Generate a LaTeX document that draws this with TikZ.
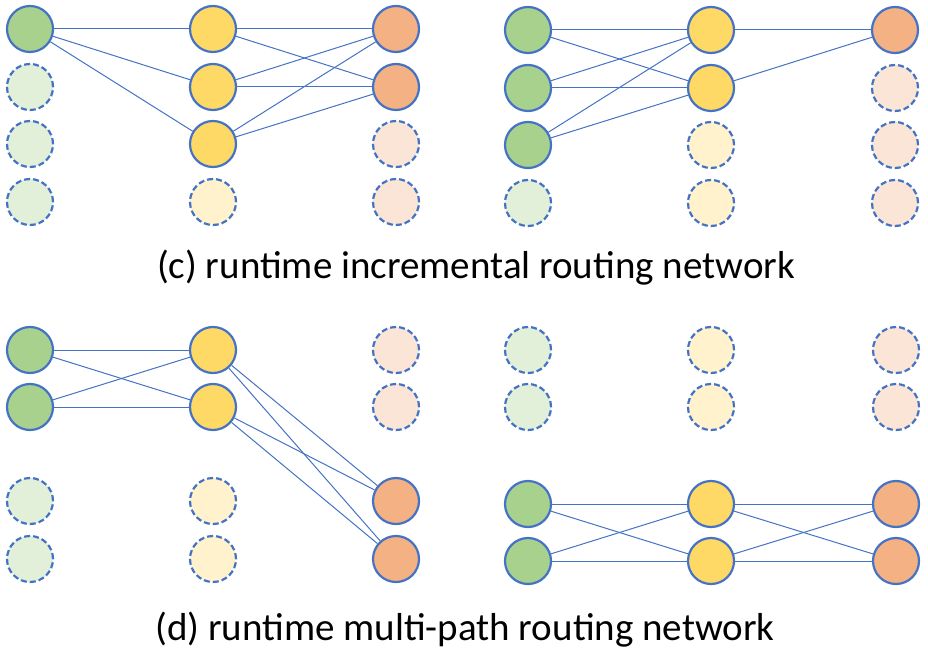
\documentclass[tikz,border=0pt]{standalone}
\usepackage{fontspec}
\setmainfont{Carlito}
\usetikzlibrary{positioning}

\definecolor{unitblue}{HTML}{4472C4}
\definecolor{greenon}{HTML}{A9D18E}
\definecolor{greenoff}{HTML}{E2F0D9}
\definecolor{yellowon}{HTML}{FFD966}
\definecolor{yellowoff}{HTML}{FFF2CC}
\definecolor{orangeon}{HTML}{F4B183}
\definecolor{orangeoff}{HTML}{FBE5D6}

\tikzset{
  unit/.style={circle, draw=unitblue, line width=2.2pt,
    minimum size=46pt, inner sep=0pt},
  idle/.style={unit, dash pattern=on 6pt off 3pt},
  gon/.style={unit, fill=greenon},
  goff/.style={idle, fill=greenoff},
  yon/.style={unit, fill=yellowon},
  yoff/.style={idle, fill=yellowoff},
  oon/.style={unit, fill=orangeon},
  ooff/.style={idle, fill=orangeoff},
  link/.style={draw=unitblue, line width=1pt},
  caption/.style={font=\fontsize{39}{44}\selectfont, inner sep=0pt}
}

\begin{document}
\begin{tikzpicture}[x=1pt,y=-1pt]
  \useasboundingbox (0,0) rectangle (928,652);

  % (c) left: one input, three hidden, two outputs
  \foreach \n/\y/\g/\h/\o in {1/29/gon/yon/oon, 2/87/goff/yon/oon,
      3/144/goff/yon/ooff, 4/202/goff/yoff/ooff} {
    \node[\g] (tl-g\n) at (30,\y) {};
    \node[\h] (tl-y\n) at (213,\y) {};
    \node[\o] (tl-o\n) at (396,\y) {};
  }
  % (c) right: three inputs, two hidden, one output
  \foreach \n/\y/\g/\h/\o in {1/30/gon/yon/oon, 2/88/gon/yon/ooff,
      3/145/gon/yoff/ooff, 4/203/goff/yoff/ooff} {
    \node[\g] (tr-g\n) at (528,\y) {};
    \node[\h] (tr-y\n) at (711,\y) {};
    \node[\o] (tr-o\n) at (895,\y) {};
  }

  \foreach \b in {1,2,3}
    \draw[link] (tl-g1) -- (tl-y\b);
  \foreach \a in {1,2,3}
    \foreach \b in {1,2}
      \draw[link] (tl-y\a) -- (tl-o\b);

  \foreach \a in {1,2,3}
    \foreach \b in {1,2}
      \draw[link] (tr-g\a) -- (tr-y\b);
  \foreach \a in {1,2}
    \draw[link] (tr-y\a) -- (tr-o1);

  \node[caption] (capC) at (476,268) {(c) runtime incremental routing network};

  % (d) left: upper path routed down to lower outputs
  \foreach \n/\y/\g/\h/\o in {1/350/gon/yon/ooff, 2/407/gon/yon/ooff,
      3/501/goff/yoff/oon, 4/559/goff/yoff/oon} {
    \node[\g] (bl-g\n) at (30,\y) {};
    \node[\h] (bl-y\n) at (213,\y) {};
    \node[\o] (bl-o\n) at (396,\y) {};
  }
  % (d) right: lower path only
  \foreach \n/\y/\g/\h/\o in {1/350/goff/yoff/ooff, 2/407/goff/yoff/ooff,
      3/504/gon/yon/oon, 4/561/gon/yon/oon} {
    \node[\g] (br-g\n) at (528,\y) {};
    \node[\h] (br-y\n) at (711,\y) {};
    \node[\o] (br-o\n) at (896,\y) {};
  }

  \foreach \a in {1,2}
    \foreach \b in {1,2}
      \draw[link] (bl-g\a) -- (bl-y\b);
  \foreach \a in {1,2}
    \foreach \b in {3,4}
      \draw[link] (bl-y\a) -- (bl-o\b);

  \foreach \a in {3,4}
    \foreach \b in {3,4} {
      \draw[link] (br-g\a) -- (br-y\b);
      \draw[link] (br-y\a) -- (br-o\b);
    }

  \node[caption] (capD) at (465,630) {(d) runtime multi-path routing network};
\end{tikzpicture}
\end{document}
